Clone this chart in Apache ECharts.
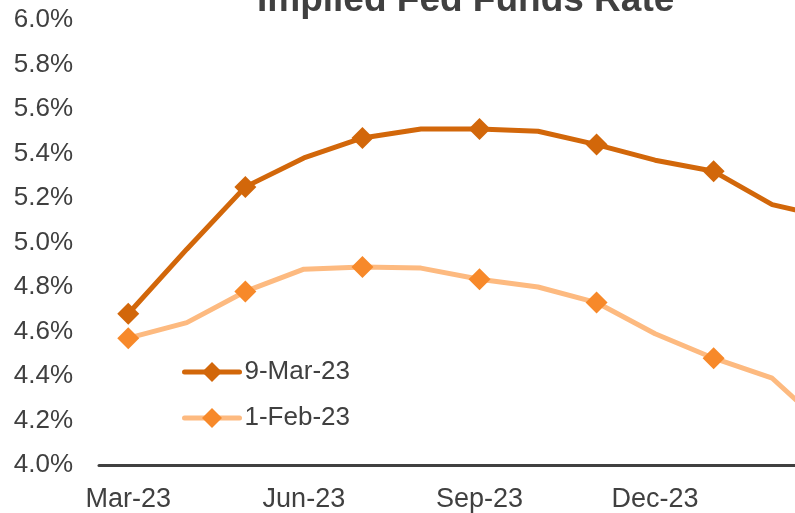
<!DOCTYPE html>
<html>
<head>
<meta charset="utf-8">
<script src="https://cdn.jsdelivr.net/npm/echarts@6/dist/echarts.min.js"></script>
<style>html,body{margin:0;padding:0;background:#fff;overflow:hidden;}#c{width:900px;height:513px;}</style>
</head>
<body>
<div id="c"></div>
<script>
const months = ['Mar-23','Apr-23','May-23','Jun-23','Jul-23','Aug-23','Sep-23','Oct-23','Nov-23','Dec-23','Jan-24','Feb-24','Mar-24'];
const shownLabels = ['Mar-23','Jun-23','Sep-23','Dec-23'];
const mar9 = [4.68, 4.97, 5.25, 5.38, 5.47, 5.51, 5.51, 5.50, 5.44, 5.37, 5.32, 5.17, 5.11];
const feb1 = [4.57, 4.64, 4.78, 4.88, 4.89, 4.885, 4.835, 4.80, 4.73, 4.59, 4.48, 4.39, 4.15];
const yTicks = [4.0, 4.2, 4.4, 4.6, 4.8, 5.0, 5.2, 5.4, 5.6, 5.8, 6.0];

const chart = echarts.init(document.getElementById('c'), null, {renderer: 'canvas'});
const markEvery = (v, p) => (p.dataIndex % 2 === 0 ? 22 : 0);
chart.setOption({
  animation: false,
  backgroundColor: '#ffffff',
  title: {
    text: 'Implied Fed Funds Rate',
    left: 252, top: -23,
    textStyle: {fontFamily: 'Liberation Sans, Arial', fontSize: 37, fontWeight: 'bold', color: '#404040'}
  },
  legend: {
    orient: 'vertical', left: 177, top: 354,
    itemWidth: 55, itemHeight: 25, itemGap: 20,
    lineStyle: {width: 5, cap: 'round'},
    textStyle: {fontFamily: 'Liberation Sans, Arial', fontSize: 26, color: '#404040'},
    data: ['9-Mar-23', '1-Feb-23']
  },
  grid: {left: 99, width: 761, top: 20, bottom: 46, containLabel: false},
  xAxis: {
    type: 'category', data: months, boundaryGap: true,
    axisLine: {lineStyle: {color: '#404040', width: 3}},
    axisTick: {show: false},
    axisLabel: {interval: (i, v) => shownLabels.includes(v), margin: 21,
      fontFamily: 'Liberation Sans, Arial', fontSize: 27, color: '#404040'}
  },
  yAxis: {
    type: 'value', min: 4.0, max: 6.0, interval: 0.2,
    axisLine: {show: false}, axisTick: {show: false}, splitLine: {show: false},
    axisLabel: {margin: 26, fontFamily: 'Liberation Sans, Arial', fontSize: 26, color: '#404040',
      formatter: v => v.toFixed(1) + '%'}
  },
  series: [
    {name: '9-Mar-23', type: 'line', data: mar9, symbol: 'diamond', symbolSize: markEvery, showAllSymbol: true,
     lineStyle: {color: '#D2670A', width: 5}, itemStyle: {color: '#D2670A'}},
    {name: '1-Feb-23', type: 'line', data: feb1, symbol: 'diamond', symbolSize: markEvery, showAllSymbol: true,
     lineStyle: {color: '#FDBA80', width: 5}, itemStyle: {color: '#F7892A'}}
  ]
});
</script>
</body>
</html>
